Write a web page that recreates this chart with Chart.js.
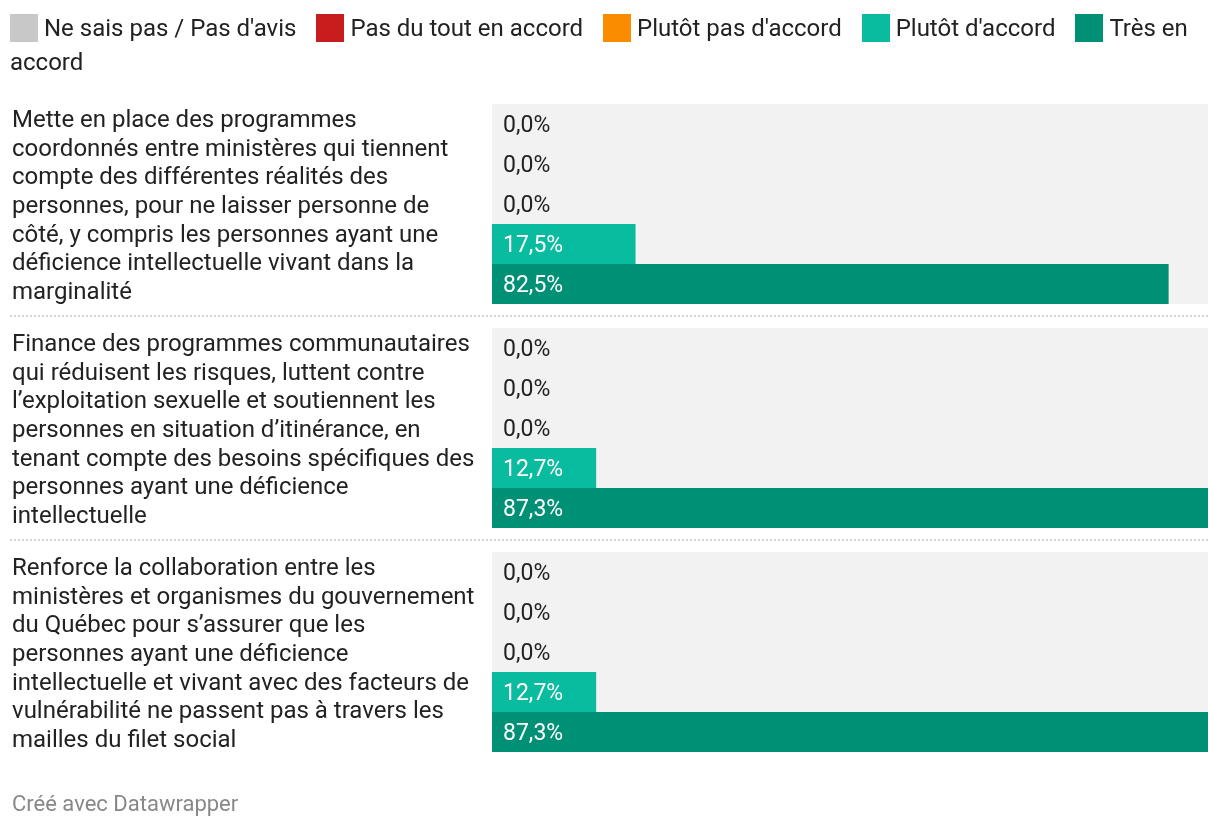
<!DOCTYPE html>
<html lang="fr">
<head>
<meta charset="utf-8">
<script src="https://cdn.jsdelivr.net/npm/chart.js@4"></script>
<style>
  html, body { margin: 0; padding: 0; background: #fff; }
  #wrap { position: relative; width: 1220px; height: 830px; font-family: Roboto, "Noto Sans", sans-serif; }
  #legend { position: absolute; left: 10px; top: 11px; width: 1200px; font-size: 24px; line-height: 34px; color: #222; }
  #legend .item { white-space: normal; margin-right: 14px; }
  #legend .sw { display: inline-block; width: 28px; height: 28px; vertical-align: -6px; margin-right: 6px; }
  #footer { position: absolute; left: 12px; top: 791px; font-size: 22px; color: #888; }
  canvas { position: absolute; left: 0; top: 0; }
</style>
</head>
<body>
<div id="wrap">
  <canvas id="c" width="1220" height="830"></canvas>
  <div id="legend"></div>
  <div id="footer">Créé avec Datawrapper</div>
</div>
<script>
// ---- data ----
const categories = [
  ["Mette en place des programmes", "coordonnés entre ministères qui tiennent", "compte des différentes réalités des", "personnes, pour ne laisser personne de", "côté, y compris les personnes ayant une", "déficience intellectuelle vivant dans la", "marginalité"],
  ["Finance des programmes communautaires", "qui réduisent les risques, luttent contre", "l’exploitation sexuelle et soutiennent les", "personnes en situation d’itinérance, en", "tenant compte des besoins spécifiques des", "personnes ayant une déficience", "intellectuelle"],
  ["Renforce la collaboration entre les", "ministères et organismes du gouvernement", "du Québec pour s’assurer que les", "personnes ayant une déficience", "intellectuelle et vivant avec des facteurs de", "vulnérabilité ne passent pas à travers les", "mailles du filet social"]
];
const seriesNames = ["Ne sais pas / Pas d'avis", "Pas du tout en accord", "Plutôt pas d'accord", "Plutôt d'accord", "Très en accord"];
const neSaisPas   = [0.0, 0.0, 0.0];
const pasDuTout   = [0.0, 0.0, 0.0];
const plutotPas   = [0.0, 0.0, 0.0];
const plutotAcc   = [17.5, 12.7, 12.7];
const tresAcc     = [82.5, 87.3, 87.3];

const seriesValues = [neSaisPas, pasDuTout, plutotPas, plutotAcc, tresAcc];
const seriesColors = ["#c8c8c8", "#c71e1d", "#fa8c00", "#09bb9f", "#009076"];
const maxVal = Math.max(...seriesValues.flat());

// ---- HTML legend ----
const legendEl = document.getElementById('legend');
legendEl.innerHTML = seriesNames.map((n, i) =>
  `<span class="item"><span class="sw" style="background:${seriesColors[i]}"></span>${n}</span>`).join(' ');

const fmt = v => v.toFixed(1).replace('.', ',') + '%';

const datasets = seriesNames.map((n, i) => ({
  label: n,
  data: seriesValues[i],
  backgroundColor: seriesColors[i],
  borderWidth: 0,
  barPercentage: 1,
  categoryPercentage: 200 / 224,
  order: 1
}));
datasets.push({
  label: 'bg',
  data: categories.map(() => maxVal),
  backgroundColor: '#f2f2f2',
  borderWidth: 0,
  grouped: false,
  barPercentage: 1,
  categoryPercentage: 200 / 224,
  order: 5
});

const separators = {
  id: 'separators',
  afterDatasetsDraw(chart) {
    const { ctx, chartArea, scales: { y } } = chart;
    ctx.save();
    ctx.strokeStyle = '#d4d4d4';
    ctx.lineWidth = 2;
    ctx.setLineDash([2, 2]);
    for (let i = 1; i < categories.length; i++) {
      const py = Math.round((y.getPixelForValue(i - 1) + y.getPixelForValue(i)) / 2);
      ctx.beginPath();
      ctx.moveTo(10, py);
      ctx.lineTo(chartArea.right, py);
      ctx.stroke();
    }
    ctx.restore();
  }
};

const valueLabels = {
  id: 'valueLabels',
  afterDatasetsDraw(chart) {
    const { ctx } = chart;
    ctx.save();
    ctx.font = '23px Roboto, "Noto Sans", sans-serif';
    ctx.textBaseline = 'middle';
    ctx.textAlign = 'left';
    for (let d = 0; d < seriesNames.length; d++) {
      const meta = chart.getDatasetMeta(d);
      meta.data.forEach((bar, i) => {
        const v = seriesValues[d][i];
        ctx.fillStyle = v > 0 ? '#ffffff' : '#222222';
        ctx.fillText(fmt(v), bar.base + 11, bar.y + 2);
      });
    }
    ctx.restore();
  }
};

new Chart(document.getElementById('c'), {
  type: 'bar',
  data: { labels: categories, datasets },
  options: {
    indexAxis: 'y',
    responsive: false,
    animation: false,
    layout: { padding: { top: 92, bottom: 66, left: 12, right: 12 } },
    plugins: { legend: { display: false }, tooltip: { enabled: false } },
    scales: {
      x: { display: false, min: 0, max: maxVal },
      y: {
        grid: { display: false },
        border: { display: false },
        afterFit(scale) { scale.width = 480; scale.paddingTop = 0; scale.paddingBottom = 0; },
        ticks: {
          crossAlign: 'far',
          autoSkip: false,
          color: '#222',
          padding: 0,
          labelOffset: 3,
          font: { family: 'Roboto, "Noto Sans", sans-serif', size: 24, lineHeight: 28.7 / 24 }
        }
      }
    }
  },
  plugins: [separators, valueLabels]
});
</script>
</body>
</html>
